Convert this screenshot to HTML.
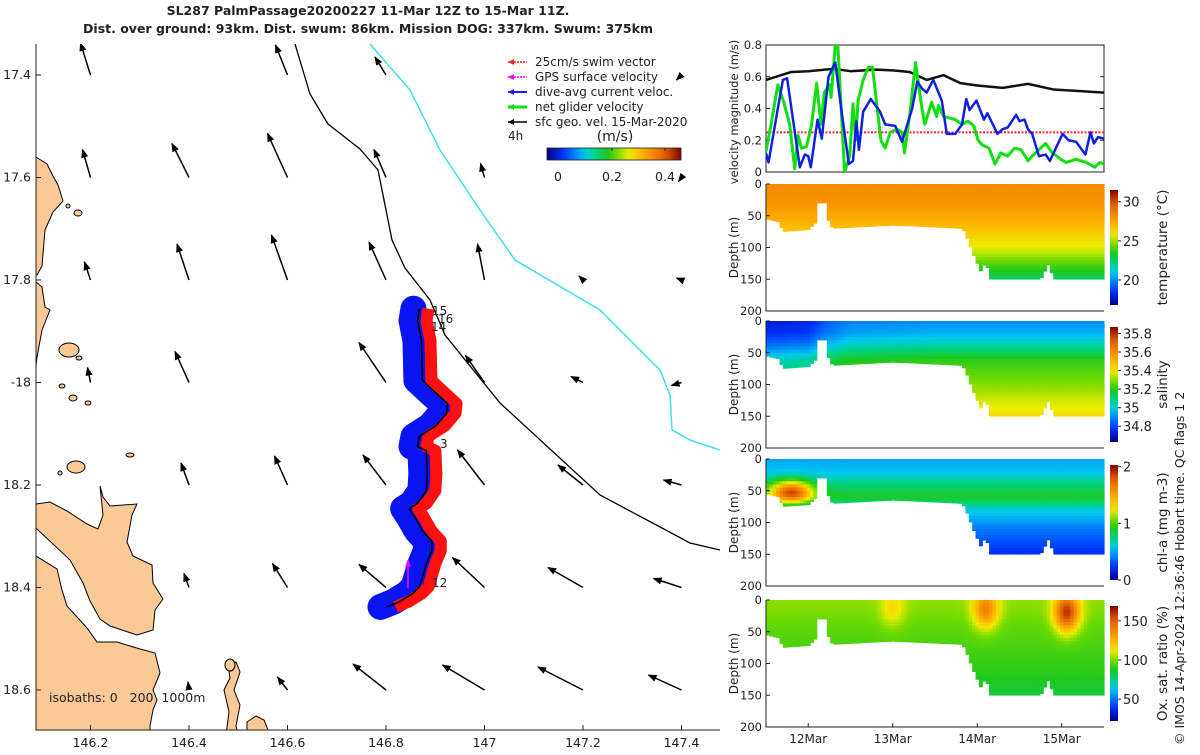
<!DOCTYPE html>
<html><head><meta charset="utf-8"><style>
html,body{margin:0;padding:0;background:#fff;}
body{width:1200px;height:750px;overflow:hidden;}
text{font-family:"DejaVu Sans","Liberation Sans",sans-serif;fill:#222;}
</style></head><body>
<svg id="fig" width="1200" height="750" viewBox="0 0 1200 750" xmlns="http://www.w3.org/2000/svg">
<defs id="defs">
<marker id="ah" viewBox="0 0 10 10" refX="9" refY="5" markerWidth="6" markerHeight="6" orient="auto"><path d="M0,1 L10,5 L0,9 z" fill="#000"/></marker>
<marker id="ahm" viewBox="0 0 10 10" refX="9" refY="5" markerWidth="5" markerHeight="5" orient="auto"><path d="M0,1 L10,5 L0,9 z" fill="#f0f"/></marker>
<linearGradient id="jetv" x1="0" y1="1" x2="0" y2="0"></linearGradient>
<linearGradient id="jeth" x1="0" y1="0" x2="1" y2="0"></linearGradient>
</defs>
<g>
<text x="368" y="15" text-anchor="middle" font-size="12.5" font-weight="bold">SL287 PalmPassage20200227 11-Mar 12Z to 15-Mar 11Z.</text>
<text x="368" y="33" text-anchor="middle" font-size="12.5" font-weight="bold">Dist. over ground: 93km. Dist. swum: 86km. Mission DOG: 337km. Swum: 375km</text>
</g>
<g id="map"></g>
<g id="vel"></g>
<g id="sections"></g>
<text transform="translate(1184,745) rotate(-90)" font-size="12.5">© IMOS 14-Apr-2024 12:36:46 Hobart time. QC flags 1  2</text>
</svg>
<script>
const blueT=[0,0.03,0.14,0.20,0.25,0.40,0.46,0.50,0.53,0.61,0.66,0.74,0.82,0.89,0.98,1.03,1.07,1.10,1.15,1.24,1.35,1.41,1.53,1.61,1.73,1.79,1.84,1.90,1.98,2.08,2.14,2.24,2.32,2.37,2.41,2.49,2.58,2.62,2.74,2.80,2.86,2.96,3.00,3.06,3.10,3.15,3.23,3.31,3.36,3.43,3.51,3.58,3.67,3.78,3.84,3.88,3.93,4.00];
const blueV=[0.12,0.06,0.4,0.58,0.59,0.03,0.11,0.1,0.03,0.33,0.21,0.6,0.69,0.4,0.05,0.07,0.32,0.14,0.38,0.46,0.38,0.3,0.29,0.19,0.4,0.57,0.53,0.5,0.58,0.45,0.24,0.24,0.3,0.46,0.39,0.45,0.33,0.37,0.24,0.27,0.28,0.36,0.32,0.33,0.27,0.24,0.1,0.11,0.07,0.15,0.24,0.2,0.19,0.11,0.25,0.18,0.22,0.21];
const greenT=[0,0.06,0.14,0.21,0.28,0.34,0.38,0.42,0.48,0.54,0.60,0.65,0.69,0.75,0.77,0.82,0.85,0.88,0.93,0.99,1.03,1.06,1.09,1.15,1.21,1.26,1.31,1.36,1.41,1.47,1.55,1.61,1.64,1.71,1.77,1.84,1.88,1.96,2.02,2.04,2.10,2.24,2.32,2.39,2.46,2.51,2.56,2.64,2.71,2.78,2.86,2.94,3.02,3.10,3.15,3.31,3.39,3.49,3.55,3.67,3.79,3.89,3.95,4.00];
const greenV=[0.13,0.3,0.55,0.44,0.3,0.02,0.23,0.15,0.16,0.3,0.56,0.3,0.5,0.55,0.47,0.8,0.8,0.5,0.0,0.1,0.43,0.2,0.45,0.58,0.66,0.66,0.43,0.2,0.15,0.25,0.27,0.25,0.12,0.4,0.69,0.42,0.3,0.44,0.35,0.42,0.35,0.33,0.3,0.32,0.29,0.2,0.17,0.15,0.05,0.12,0.1,0.15,0.14,0.07,0.1,0.18,0.12,0.08,0.06,0.08,0.06,0.03,0.06,0.05];
const geoT=[0,0.3,0.5,0.8,1.0,1.3,1.5,1.7,1.9,2.1,2.3,2.5,2.8,3.1,3.4,3.7,4.0];
const geoV=[0.58,0.63,0.635,0.65,0.635,0.645,0.64,0.63,0.58,0.61,0.56,0.545,0.53,0.555,0.52,0.51,0.50];
const swimV=0.25;
const velTicks=[0,0.2,0.4,0.6,0.8];
const dayLabels=['12Mar','13Mar','14Mar','15Mar'];
const dayTicks=[0.5,1.5,2.5,3.5];
const bottomT=[0,0.15,0.2,0.5,0.58,0.62,0.7,0.75,0.8,1.5,2.3,2.35,2.45,2.55,2.6,2.65,2.7,3.25,3.35,3.4,4.0];
const bottomD=[55,60,75,72,62,30,30,65,70,65,70,75,110,140,120,150,150,150,125,150,150];
const profZ=[0,20,40,60,80,110,150];
const tempV=[28.3,28.2,27.8,27.2,26.5,25.2,22.5];
const salInc=[0,0.05,0.15,0.3,0.35,0.42,0.52];
const salSurfT=[0,0.5,0.7,1.0,2.0,4.0];
const salSurfV=[34.72,34.74,34.82,34.88,34.9,34.9];
const chlV=[0.5,0.55,0.75,0.9,0.6,0.4,0.22];
const oxV=[102,100,97,95,93,90,85];
const chlHotT=[0.3];const chlHotZ=[52];const chlHotA=[1.0];
const oxHotT=[1.5,2.6,3.56];const oxHotZ=[15,15,20];const oxHotA=[15,40,60];
const depthTicks=[0,50,100,150,200];
const arrLon=[146.2,146.2,146.2,146.2,146.4,146.4,146.4,146.4,146.4,146.4,146.6,146.6,146.6,146.6,146.6,146.6,146.8,146.8,146.8,146.8,146.8,146.8,146.8,147,147,147,147,147,147,147.2,147.2,147.2,147.2,147.2,147.4,147.4,147.4,147.4,147.4,147.4,147.4];
const arrLat=[17.4,17.6,17.8,18.0,17.6,17.8,18.0,18.2,18.4,18.6,17.4,17.6,17.8,18.2,18.4,18.6,17.4,17.6,17.8,18.0,18.2,18.4,18.6,17.6,17.8,18.0,18.2,18.4,18.6,17.8,18.0,18.2,18.4,18.6,17.4,17.6,17.8,18.0,18.2,18.4,18.6];
const arrU=[-10,-8,-6,-3,-17,-12,-14,-8,-5,-1,-12,-20,-16,-13,-15,-10,-11,-12,-17,-27,-23,-27,-33,-4,-7,-19,-27,-32,-42,-4,-12,-25,-35,-45,-5,-3,-5,-10,-18,-28,-33];
const arrV=[-32,-28,-18,-15,-34,-36,-31,-22,-14,-8,-30,-44,-45,-29,-24,-13,-18,-28,-38,-40,-30,-23,-26,-14,-36,-27,-35,-30,-25,-4,-6,-20,-20,-23,5,4,-2,3,-5,-9,-15];
const lonTicks=[146.2,146.4,146.6,146.8,147,147.2,147.4];
const latTicks=[17.4,17.6,17.8,18.0,18.2,18.4,18.6];
const latLabels=['17.4','17.6','17.8','-18','18.2','18.4','18.6'];
const trackLon=[146.868,146.864,146.872,146.874,146.902,146.925,146.923,146.902,146.868,146.864,146.882,146.884,146.882,146.864,146.847,146.858,146.874,146.893,146.893,146.882,146.868,146.854,146.827,146.801];
const trackLat=[17.856,17.879,17.918,17.996,18.021,18.041,18.060,18.084,18.105,18.125,18.133,18.178,18.211,18.236,18.246,18.262,18.289,18.309,18.328,18.354,18.399,18.412,18.428,18.438];

const NS='http://www.w3.org/2000/svg';
function mk(tag,attrs,parent){const e=document.createElementNS(NS,tag);for(const k in attrs)e.setAttribute(k,attrs[k]);if(parent)parent.appendChild(e);return e;}
function txt(s,x,y,attrs,parent){const e=mk('text',Object.assign({x:x,y:y},attrs),parent);e.textContent=s;return e;}
function interp(xs,ys,x){if(x<=xs[0])return ys[0];for(let i=1;i<xs.length;i++){if(x<=xs[i]){const f=(x-xs[i-1])/(xs[i]-xs[i-1]);return ys[i-1]+f*(ys[i]-ys[i-1]);}}return ys[ys.length-1];}
const stops=[[0,[0,0,130]],[0.12,[0,50,255]],[0.28,[0,200,240]],[0.36,[0,210,130]],[0.45,[30,200,30]],[0.53,[120,220,0]],[0.61,[240,235,0]],[0.72,[255,170,0]],[0.88,[225,95,0]],[1,[130,0,0]]];
function cmap(f){f=Math.max(0,Math.min(1,f));for(let i=1;i<stops.length;i++){if(f<=stops[i][0]){const a=stops[i-1],b=stops[i];const t=(f-a[0])/(b[0]-a[0]);const c=a[1].map((v,j)=>Math.round(v+t*(b[1][j]-v)));return 'rgb('+c.join(',')+')';}}return 'rgb(130,0,0)';}
['jetv','jeth'].forEach(id=>{const g=document.getElementById(id);for(let i=0;i<=20;i++){mk('stop',{offset:(i/20),'stop-color':cmap(i/20)},g);}});

// ===== MAP =====
const map=document.getElementById('map');
const mx=lon=>189+(lon-146.4)/0.2*98.5;
const my=lat=>75+(lat-17.4)/0.2*102.5;
const MX0=36,MX1=720,MY0=44,MY1=730;
const clip=mk('clipPath',{id:'mapclip'},document.getElementById('defs'));
mk('rect',{x:MX0,y:MY0,width:MX1-MX0,height:MY1-MY0},clip);
const mg=mk('g',{'clip-path':'url(#mapclip)'},map);
const landStyle={fill:'#fbc995',stroke:'#000','stroke-width':1};
const lands=[
 '36,157 47,164 53,176 58,185 63,201 53,212 45,230 42,266 37,275 30,275 30,157',
 '36,282 42,287 45,307 50,310 42,330 37,357 36,366 30,366 30,282',
 '36,504 50,502 67,511 87,524 98,529 103,515 100,486 103,497 110,506 137,504 132,515 127,542 133,556 152,565 153,583 163,599 155,610 153,630 137,635 110,626 100,619 90,601 83,583 70,560 37,529 30,529 30,504',
 '36,556 57,569 62,590 67,606 87,628 97,642 117,642 140,649 155,653 160,673 153,690 157,700 153,710 150,726 150,750 30,750 30,556',
 '228,664 236,662 240,672 234,690 240,705 236,726 242,746 230,750 226,735 229,712 224,690 230,678',
 '247,722 256,716 264,720 270,735 247,735'];
lands.forEach((p,i)=>{const e=mk('polygon',Object.assign({points:p},landStyle),mg);

});
[[76,467,9,6],[69,350,10,7],[62,386,3,2],[79,358,3,2],[73,398,4,3],[88,403,3,2],[78,213,4,3],[68,206,2,2],[60,473,2,2],[130,455,4,2],[230,665,5,6]].forEach(c=>{const e=mk('ellipse',Object.assign({cx:c[0],cy:c[1],rx:c[2],ry:c[3]},landStyle),mg);

});
const iso200=mk('polyline',{points:'295,44 310,94 328,124 360,149 378,170 392,240 405,268 430,300 445,335 500,403 600,495 690,543 720,550',fill:'none',stroke:'#000','stroke-width':1.3},mg);


const iso1000=mk('polyline',{points:'370,44 410,90 440,150 480,210 515,260 600,310 660,370 670,395 672,430 690,440 720,450',fill:'none',stroke:'#3ee0e8','stroke-width':1.5},mg);


for(let i=0;i<arrLon.length;i++){const x=mx(arrLon[i]),y=my(arrLat[i]);const u=arrU[i],v=arrV[i];
const a=mk('line',{x1:x,y1:y,x2:x+u,y2:y+v,stroke:'#000','stroke-width':1.5,'marker-end':'url(#ah)'},mg);

}
const tp=trackLon.map((l,i)=>[mx(l),my(trackLat[i])]);
const ptsStr=dx=>tp.map(p=>(p[0]+dx)+','+p[1]).join(' ');
const band=mk('polyline',{points:ptsStr(-6),fill:'none',stroke:'#0a14f0','stroke-width':26,'stroke-linejoin':'round','stroke-linecap':'round'},mg);


const red=mk('polyline',{points:ptsStr(9),fill:'none',stroke:'#ff1010','stroke-width':12,'stroke-linejoin':'round'},mg);


const trk=mk('polyline',{points:ptsStr(0),fill:'none',stroke:'#000','stroke-width':1.6},mg);


const gps=mk('line',{x1:408,y1:588,x2:408,y2:560,stroke:'#f0f','stroke-width':1.5,'marker-end':'url(#ahm)'},mg);


[['15',432,315],['16',438,323],['14',431,331],['3',440,448],['12',432,587]].forEach(d=>{const e=txt(d[0],d[1],d[2],{'font-size':12},mg);

});
const mapAxis=mk('polyline',{points:MX0+','+MY0+' '+MX0+','+MY1+' '+MX1+','+MY1,fill:'none',stroke:'#222','stroke-width':1},map);


lonTicks.forEach(l=>{const x=mx(l);mk('line',{x1:x,y1:MY1,x2:x,y2:MY1-5,stroke:'#222'},map);
const e=txt(String(l),x,MY1+17,{'font-size':12.5,'text-anchor':'middle'},map);

});
latTicks.forEach((l,i)=>{const y=my(l);mk('line',{x1:MX0,y1:y,x2:MX0+5,y2:y,stroke:'#222'},map);
const e=txt(latLabels[i],31,y+4,{'font-size':12.5,'text-anchor':'end'},map);

});
const isoTxt=txt('isobaths: 0\u00a0\u00a0\u00a0200\u00a0\u00a01000m',49,702,{'font-size':12.5},map);


const leg=mk('g',{},map);


[['25cm/s swim vector','#ff2020',1.5],['GPS surface velocity','#f0f',1.5],['dive-avg current veloc.','#1020f0',2],['net glider velocity','#10e010',3],['sfc geo. vel. 15-Mar-2020','#000',1.5]].forEach((d,i)=>{const y=62+i*15;
mk('line',{x1:508,y1:y,x2:527,y2:y,stroke:d[1],'stroke-width':d[2],'stroke-dasharray':i<2?'2,1':'none'},leg);
mk('path',{d:`M508,${y} l6,-3 l0,6 z`,fill:d[1]},leg);
const e=txt(d[0],535,y+4,{'font-size':12},leg);

});
txt('4h',508,140,{'font-size':12},leg);
txt('(m/s)',615,141,{'font-size':14,'text-anchor':'middle'},leg);
const cbh=mk('rect',{x:547,y:148,width:134,height:12,fill:'url(#jeth)',stroke:'#222','stroke-width':0.8},leg);


[[0,558],[0.2,612],[0.4,665]].forEach(d=>{mk('line',{x1:d[1],y1:148,x2:d[1],y2:151,stroke:'#222'},leg);txt(String(d[0]),d[1],181,{'font-size':12.5,'text-anchor':'middle'},leg);});

// ===== VELOCITY PANEL =====
const vel=document.getElementById('vel');
const PX0=766,PX1=1104;
const tx=t=>PX0+t/4*(PX1-PX0);
const vy=v=>172-v/0.8*127;
mk('rect',{x:PX0,y:45,width:PX1-PX0,height:127,fill:'none',stroke:'#222','stroke-width':1},vel);
velTicks.forEach(v=>{const y=vy(v);mk('line',{x1:PX0,y1:y,x2:PX0+4,y2:y,stroke:'#222'},vel);mk('line',{x1:PX1,y1:y,x2:PX1-4,y2:y,stroke:'#222'},vel);
const e=txt(String(v),762,y+4,{'font-size':11.5,'text-anchor':'end'},vel);

});
const vlab=txt('velocity magnitude (m/s)',0,0,{'font-size':11.5,'text-anchor':'middle',transform:'translate(738,112) rotate(-90)'},vel);


const vclip=mk('clipPath',{id:'vclip'},document.getElementById('defs'));mk('rect',{x:PX0,y:45,width:PX1-PX0,height:127},vclip);
const vg=mk('g',{'clip-path':'url(#vclip)'},vel);
const sw=mk('line',{x1:PX0,y1:vy(swimV),x2:PX1,y2:vy(swimV),stroke:'#ff2020','stroke-width':2,'stroke-dasharray':'2,1.5'},vg);


function series(T,V,color,w,name){const e=mk('polyline',{points:T.map((t,i)=>tx(t)+','+vy(V[i])).join(' '),fill:'none',stroke:color,'stroke-width':w,'stroke-linejoin':'round'},vg);

}
series(geoT,geoV,'#111',2.5,'geostrophic-velocity-line');
series(greenT,greenV,'#10e010',3,'net-glider-velocity-line');
series(blueT,blueV,'#1020e0',2.5,'current-velocity-line');

// ===== SECTIONS =====
const sec=document.getElementById('sections');
const panels=[
 {top:184,name:'temperature',lo:16.8,hi:31.5,label:'temperature (°C)',ticks:[20,25,30],f:(t,z)=>interp(profZ,tempV,z)},
 {top:321,name:'salinity',lo:34.63,hi:35.87,label:'salinity',ticks:[34.8,35,35.2,35.4,35.6,35.8],f:(t,z)=>interp(salSurfT,salSurfV,t)+interp(profZ,salInc,z)},
 {top:459,name:'chlorophyll',lo:0,hi:2.03,label:'chl-a (mg m-3)',ticks:[0,1,2],f:(t,z)=>{let v=interp(profZ,chlV,z);for(let k=0;k<chlHotT.length;k++)v+=chlHotA[k]*Math.exp(-Math.pow((t-chlHotT[k])/0.25,2)-Math.pow((z-chlHotZ[k])/18,2));return v;}},
 {top:600,name:'oxygen',lo:22,hi:169,label:'Ox. sat. ratio (%)',ticks:[50,100,150],f:(t,z)=>{let v=interp(profZ,oxV,z);for(let k=0;k<oxHotT.length;k++)v+=oxHotA[k]*Math.exp(-Math.pow((t-oxHotT[k])/0.15,2)-Math.pow((z-oxHotZ[k])/30,2));return v;}}];
const H=127,dt=0.04,dz=5;
panels.forEach(p=>{const g=mk('g',{},sec);


const zy=z=>p.top+z/200*H;
const cw=tx(dt)-tx(0)+0.6,ch=zy(dz)-zy(0)+0.6;
for(let t=0;t<4;t+=dt){const bd=interp(bottomT,bottomD,t+dt/2);
for(let z=0;z<bd;z+=dz){const v=p.f(t+dt/2,z+dz/2);
mk('rect',{x:tx(t),y:zy(z),width:cw,height:Math.min(ch,zy(bd)-zy(z)+0.3),fill:cmap((v-p.lo)/(p.hi-p.lo))},g);}}
mk('polyline',{points:PX0+','+p.top+' '+PX0+','+(p.top+H)+' '+PX1+','+(p.top+H),fill:'none',stroke:'#222'},g);
depthTicks.forEach(d=>{const y=zy(d);mk('line',{x1:PX0,y1:y,x2:PX0+4,y2:y,stroke:'#222'},g);
const e=txt(String(d),762,y+4,{'font-size':11.5,'text-anchor':'end'},g);

});
const yl=txt('Depth (m)',0,0,{'font-size':12,'text-anchor':'middle',transform:`translate(738,${p.top+H/2}) rotate(-90)`},g);


const cbTop=p.top+6,cbH=115;
const cb=mk('rect',{x:1110,y:cbTop,width:8,height:cbH,fill:'url(#jetv)'},g);


p.ticks.forEach(v=>{const y=cbTop+cbH*(1-(v-p.lo)/(p.hi-p.lo));mk('line',{x1:1118,y1:y,x2:1121,y2:y,stroke:'#222'},g);
const e=txt(String(v),1123,y+5,{'font-size':13},g);

});
const cl=txt(p.label,0,0,{'font-size':13.5,'text-anchor':'middle',transform:`translate(1167,${p.top+H/2}) rotate(-90)`},g);

});
dayTicks.forEach((d,i)=>{const x=tx(d);mk('line',{x1:x,y1:727,x2:x,y2:723,stroke:'#222'},sec);
const e=txt(dayLabels[i],x,743,{'font-size':12,'text-anchor':'middle'},sec);

});
</script>
</body></html>
